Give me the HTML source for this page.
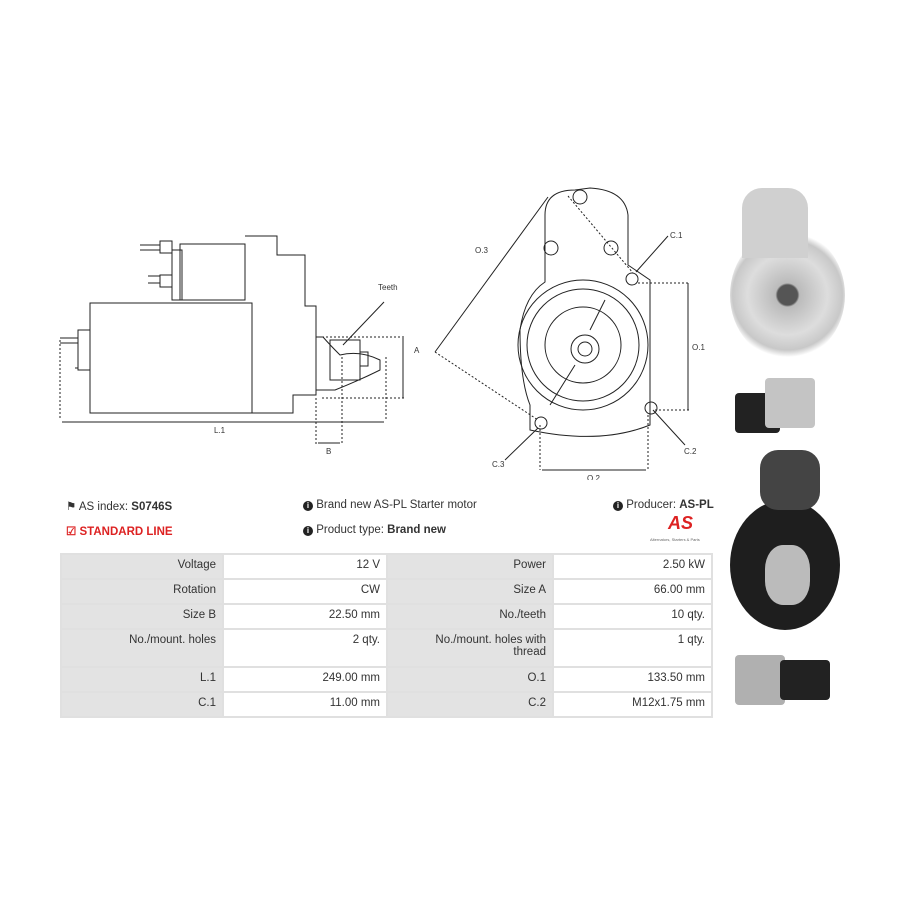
<!DOCTYPE html>
<html><head><meta charset="utf-8"><style>
body{margin:0;background:#fff;width:900px;height:900px;overflow:hidden;font-family:"Liberation Sans",sans-serif;position:relative}
.t{position:absolute;font-size:11.5px;color:#333;white-space:nowrap}
.i{display:inline-block;width:10px;height:10px;border-radius:50%;background:#222;color:#fff;font-size:8px;text-align:center;line-height:10px;font-weight:bold;vertical-align:0}
table{position:absolute;left:60px;top:553px;border-collapse:collapse;width:653px;font-size:11.5px;color:#333}
td{border:2px solid #e0e0e0;text-align:right;padding:4px 6px;height:15px;vertical-align:top}
td.g{background:#e3e3e3}
</style></head><body>
<svg width="900" height="480" style="position:absolute;left:0;top:0" fill="none" stroke="#222" stroke-width="1" font-family="Liberation Sans" font-size="8">
<rect x="90" y="303" width="162" height="110"/>
<path d="M180 244 H245 V300 H180 Z M245 236 H277 V255 H305 V306 H316 V395 H293 V413 H252"/>
<rect x="172" y="250" width="10" height="50"/>
<rect x="160" y="241" width="12" height="12"/><rect x="160" y="275" width="12" height="12"/>
<path d="M140 245 H160 M140 250 H160 M148 276 H160 M148 283 H160"/>
<rect x="78" y="330" width="12" height="40"/><path d="M60 338 H78 M60 343 H78 M75 368 H78"/>
<path d="M316 337 H323 Q330 345 340 355 Q360 350 380 360 V370 Q360 380 335 390 H316"/>
<rect x="330" y="340" width="30" height="40"/><rect x="360" y="352" width="8" height="14"/>
<g stroke-dasharray="2,2"><path d="M322 337 H405 M322 398 H405 M60 340 V420 M386 357 V420 M316 398 V445 M342 357 V445"/></g>
<path d="M403 338 V398 M62 422 H384 M318 443 H340"/>
<path d="M384 302 L343 345"/>
<text x="378" y="290" stroke="none" fill="#333">Teeth</text>
<text x="414" y="353" stroke="none" fill="#333">A</text>
<text x="214" y="433" stroke="none" fill="#333">L.1</text>
<text x="326" y="454" stroke="none" fill="#333">B</text>
<path d="M545 215 Q545 190 575 190 L590 188 Q625 190 628 215 V265 L650 280 V425 Q600 445 530 430 V405 Q520 380 520 330 Q525 295 545 282 Z"/>
<circle cx="583" cy="345" r="65"/><circle cx="583" cy="345" r="56"/><circle cx="583" cy="345" r="38"/>
<circle cx="585" cy="349" r="14"/><circle cx="585" cy="349" r="7"/>
<path d="M605 300 L590 330 M575 365 L550 405"/>
<circle cx="580" cy="197" r="7"/><circle cx="551" cy="248" r="7"/><circle cx="611" cy="248" r="7"/>
<circle cx="632" cy="279" r="6"/><circle cx="651" cy="408" r="6"/><circle cx="541" cy="423" r="6"/>
<g stroke-dasharray="2,2"><path d="M568 196 L633 273 M435 352 L538 420 M638 283 H690 M655 410 H690 M540 425 V470 M648 415 V470"/></g>
<path d="M548 197 L435 352 M688 283 V410 M542 470 H646 M636 272 L668 236 M653 410 L685 445 M538 428 L505 460"/>
<text x="475" y="253" stroke="none" fill="#333">O.3</text>
<text x="692" y="350" stroke="none" fill="#333">O.1</text>
<text x="670" y="238" stroke="none" fill="#333">C.1</text>
<text x="684" y="454" stroke="none" fill="#333">C.2</text>
<text x="492" y="467" stroke="none" fill="#333">C.3</text>
<text x="587" y="481" stroke="none" fill="#333">O.2</text>
</svg>
<div style="position:absolute;left:730px;top:230px;width:115px;height:130px;border-radius:50%;background:radial-gradient(circle at 50% 50%,#555 10px,#bbb 12px,#ddd 40px,#c8c8c8 55px,#fff 62px)"></div>
<div style="position:absolute;left:742px;top:188px;width:66px;height:70px;background:#d0d0d0;border-radius:20px 20px 0 0"></div>
<div style="position:absolute;left:735px;top:393px;width:45px;height:40px;background:#222;border-radius:4px"></div>
<div style="position:absolute;left:765px;top:378px;width:50px;height:50px;background:#c4c4c4;border-radius:4px"></div>
<div style="position:absolute;left:730px;top:500px;width:110px;height:130px;background:#1e1e1e;border-radius:50%"></div>
<div style="position:absolute;left:760px;top:450px;width:60px;height:60px;background:#444;border-radius:30%"></div>
<div style="position:absolute;left:765px;top:545px;width:45px;height:60px;background:#bbb;border-radius:40%"></div>
<div style="position:absolute;left:735px;top:655px;width:50px;height:50px;background:#b0b0b0;border-radius:4px"></div>
<div style="position:absolute;left:780px;top:660px;width:50px;height:40px;background:#222;border-radius:4px"></div>
<div class="t" style="left:66px;top:499px">&#9873; AS index: <b>S0746S</b></div>
<div class="t" style="left:66px;top:524px;color:#d22;font-weight:bold">&#9745; STANDARD LINE</div>
<div class="t" style="left:303px;top:499px"><span class="i">i</span> Brand new AS-PL Starter motor</div>
<div class="t" style="left:303px;top:524px"><span class="i">i</span> Product type: <b>Brand new</b></div>
<div class="t" style="left:613px;top:499px"><span class="i">i</span> Producer: <b>AS-PL</b></div>
<div class="t" style="left:668px;top:513px;color:#d22;font-weight:bold;font-style:italic;font-size:18px">AS</div>
<div class="t" style="left:650px;top:537px;font-size:4px;color:#666">Alternators, Starters &amp; Parts</div>
<table>
<tr><td class="g" style="width:148px">Voltage</td><td style="width:150px">12 V</td><td class="g" style="width:152px">Power</td><td>2.50 kW</td></tr>
<tr><td class="g">Rotation</td><td>CW</td><td class="g">Size A</td><td>66.00 mm</td></tr>
<tr><td class="g">Size B</td><td>22.50 mm</td><td class="g">No./teeth</td><td>10 qty.</td></tr>
<tr><td class="g" style="height:28px">No./mount. holes</td><td>2 qty.</td><td class="g">No./mount. holes with<br>thread</td><td>1 qty.</td></tr>
<tr><td class="g">L.1</td><td>249.00 mm</td><td class="g">O.1</td><td>133.50 mm</td></tr>
<tr><td class="g">C.1</td><td>11.00 mm</td><td class="g">C.2</td><td>M12x1.75 mm</td></tr>
</table>
</body></html>
